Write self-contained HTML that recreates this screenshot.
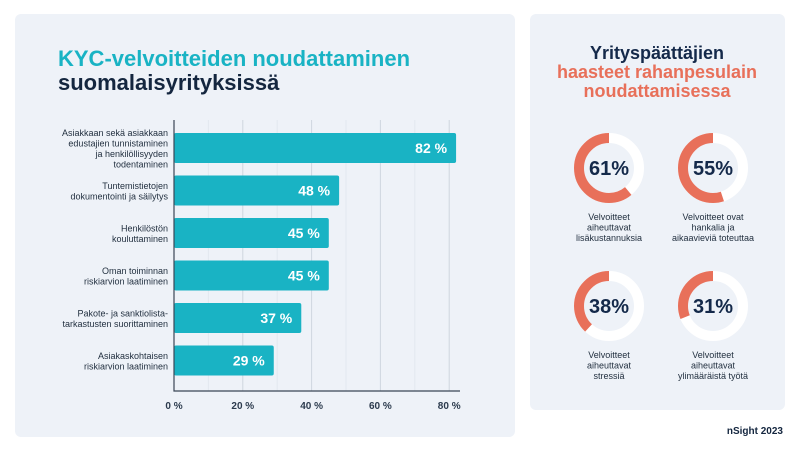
<!DOCTYPE html>
<html><head><meta charset="utf-8"><style>
body{margin:0;width:800px;height:450px;background:#fff;font-family:"Liberation Sans",sans-serif;overflow:hidden;position:relative}
.panel{position:absolute;background:#eef2f8;border-radius:6px}
</style></head><body>
<div class="panel" style="left:15px;top:14px;width:500px;height:423px"></div>
<div class="panel" style="left:530px;top:14px;width:255px;height:396px"></div>
<svg width="800" height="450" style="position:absolute;left:0;top:0">
<text x="58" y="66" font-size="22" font-weight="bold" fill="#19b3c4">KYC-velvoitteiden noudattaminen</text>
<text x="58" y="90" font-size="22" font-weight="bold" fill="#14263f">suomalaisyrityksissä</text>
<g id="bars"></g>
<text x="657" y="59" font-size="18" font-weight="bold" fill="#14294a" text-anchor="middle">Yrityspäättäjien</text>
<text x="657" y="78" font-size="18" font-weight="bold" fill="#e8705a" text-anchor="middle">haasteet rahanpesulain</text>
<text x="657" y="97" font-size="18" font-weight="bold" fill="#e8705a" text-anchor="middle">noudattamisessa</text>
<g id="donuts"></g>
<text x="783" y="434" font-size="10" font-weight="bold" fill="#14263f" text-anchor="end">nSight 2023</text>
</svg>
<script>
const categories=[["Asiakkaan sekä asiakkaan","edustajien tunnistaminen","ja henkilöllisyyden","todentaminen"],["Tuntemistietojen","dokumentointi ja säilytys"],["Henkilöstön","kouluttaminen"],["Oman toiminnan","riskiarvion laatiminen"],["Pakote- ja sanktiolista-","tarkastusten suorittaminen"],["Asiakaskohtaisen","riskiarvion laatiminen"]];
const values=[82,48,45,45,37,29];
const ticks=[0,20,40,60,80];
const donutValues=[61,55,38,31];
const donutLabels=[["Velvoitteet","aiheuttavat","lisäkustannuksia"],["Velvoitteet ovat","hankalia ja","aikaavieviä toteuttaa"],["Velvoitteet","aiheuttavat","stressiä"],["Velvoitteet","aiheuttavat","ylimääräistä työtä"]];
const NS="http://www.w3.org/2000/svg";
function mk(p,t,a){const e=document.createElementNS(NS,t);for(const k in a)e.setAttribute(k,a[k]);p.appendChild(e);return e;}
const x=v=>174+v*3.44;
const y=i=>133+i*42.5;
const g=document.getElementById('bars');
for(let t=10;t<=80;t+=10){const gl=mk(g,'line',{x1:x(t),x2:x(t),y1:120,y2:391,stroke:t%20?'#e3e8ef':'#cfd6df','stroke-width':1});

}
ticks.forEach(t=>{const tl=mk(g,'text',{x:x(t),y:409,'font-size':10,'font-weight':'bold',fill:'#2b3a4d','text-anchor':'middle'});tl.textContent=t+' %';

});
values.forEach((v,i)=>{
const r=mk(g,'rect',{x:x(0),y:y(i),width:x(v)-x(0),height:30,rx:2,fill:'#19b3c4'});


const vt=mk(g,'text',{x:x(v)-9,y:y(i)+20,'font-size':14,'font-weight':'bold',fill:'#fff','text-anchor':'end'});vt.textContent=v+' %';


const L=categories[i];const cy=y(i)+15;
L.forEach((s,j)=>{const ct=mk(g,'text',{x:168,y:cy+(j-(L.length-1)/2)*10.5+3.5,'font-size':9,fill:'#1f2d3d','text-anchor':'end'});ct.textContent=s;

});
});
const ax=mk(g,'path',{d:`M${x(0)} 120 V391 H460`,stroke:'#3a4656','stroke-width':1.2,fill:'none'});


const d=document.getElementById('donuts');
const cx=[609,713],cyy=[168,306],R=30,C=2*Math.PI*R;
donutValues.forEach((v,i)=>{
const X=cx[i%2],Y=cyy[Math.floor(i/2)];
const bg=mk(d,'circle',{cx:X,cy:Y,r:R,fill:'none',stroke:'#fff','stroke-width':10});


const arc=mk(d,'circle',{cx:X,cy:Y,r:R,fill:'none',stroke:'#e8705a','stroke-width':10,'stroke-dasharray':`${C*v/100} ${C}`,transform:`translate(${X} ${Y}) scale(-1 1) rotate(-90) translate(${-X} ${-Y})`});


const t=mk(d,'text',{x:X,y:Y+7,'font-size':20,'font-weight':'bold',fill:'#14294a','text-anchor':'middle'});t.textContent=v+'%';


donutLabels[i].forEach((s,j)=>{const lt=mk(d,'text',{x:X,y:Y+52+j*10.5,'font-size':9,fill:'#1f2d3d','text-anchor':'middle'});lt.textContent=s;

});
});
</script>
</body></html>
